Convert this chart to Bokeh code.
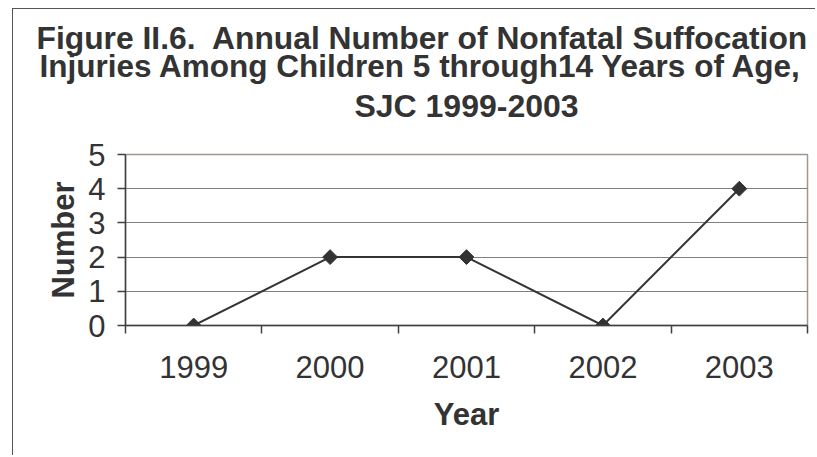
import math
from bokeh.plotting import figure
from bokeh.models import Range1d, FixedTicker, Title
from bokeh.embed import file_html
from bokeh.resources import INLINE

# ---- data ----
years = ["1999", "2000", "2001", "2002", "2003"]
counts = [0, 2, 2, 0, 4]
y_ticks = [0, 1, 2, 3, 4, 5]
title_line1 = "Figure II.6.\u00a0 Annual Number of Nonfatal Suffocation"
title_line2 = "Injuries Among Children 5 through14 Years of Age,"
title_line3 = "SJC 1999-2003"
x_title = "Year"
y_title = "Number"

FONT = "Liberation Sans"
TXT = "#333333"

xs = list(range(len(years)))
boundaries = [i - 0.5 for i in range(len(years) + 1)]

# canvas starts at page (13, 9) because of css margin + border
p = figure(width=803, height=447, output_backend="svg", toolbar_location=None,
           x_range=Range1d(-0.5, len(years) - 0.5), y_range=Range1d(0, 5),
           min_border_left=112, min_border_right=9, min_border_top=145,
           min_border_bottom=131)
p.styles = {"margin-left": "12px", "margin-top": "8px",
            "border-left": "1px solid #555555", "border-top": "1px solid #555555"}
p.background_fill_color = "white"
p.border_fill_color = "white"
p.outline_line_color = "#a0968f"
p.outline_line_width = 1.5

# x axis
xa = p.xaxis[0]
xa.ticker = FixedTicker(ticks=xs, minor_ticks=boundaries)
xa.major_label_overrides = {i: y for i, y in zip(xs, years)}
xa.major_tick_out = 0
xa.major_tick_in = 0
xa.minor_tick_out = 8
xa.minor_tick_in = 0
xa.minor_tick_line_color = "#404040"
xa.minor_tick_line_width = 1.5
xa.axis_line_color = "#404040"
xa.axis_line_width = 1.5
xa.major_label_text_font = FONT
xa.major_label_text_font_size = "31px"
xa.major_label_text_color = TXT
xa.major_label_standoff = 22
xa.axis_label = x_title
xa.axis_label_text_font = FONT
xa.axis_label_text_font_size = "31px"
xa.axis_label_text_font_style = "bold"
xa.axis_label_text_color = TXT
xa.axis_label_standoff = 16

# y axis
ya = p.yaxis[0]
ya.ticker = FixedTicker(ticks=y_ticks)
ya.major_tick_out = 8
ya.major_tick_in = 0
ya.minor_tick_out = 0
ya.minor_tick_in = 0
ya.major_tick_line_color = "#404040"
ya.major_tick_line_width = 1.5
ya.axis_line_color = "#404040"
ya.axis_line_width = 1.5
ya.major_label_text_font = FONT
ya.major_label_text_font_size = "31px"
ya.major_label_text_color = TXT
ya.major_label_standoff = 12
ya.axis_label = y_title
ya.axis_label_text_font = FONT
ya.axis_label_text_font_size = "31px"
ya.axis_label_text_font_style = "bold"
ya.axis_label_text_color = TXT
ya.axis_label_standoff = 4

p.xgrid.visible = False
p.ygrid.ticker = FixedTicker(ticks=y_ticks[1:-1])
p.ygrid.grid_line_color = "#808080"
p.ygrid.grid_line_width = 1.2

# series
p.line(xs, counts, line_color="#333333", line_width=2)
p.scatter(xs, counts, marker="square", angle=math.pi / 4, size=10.5,
          fill_color="#333333", line_color="#333333")

# titles (stacked outward from the plot frame)
p.add_layout(Title(text=" ", text_font_size="2px", standoff=26.7), "above")  # spacer
p.add_layout(Title(text=title_line3, align="center", standoff=0,
                   text_font=FONT, text_font_size="32px", text_font_style="bold",
                   text_color=TXT), "above")
p.add_layout(Title(text=title_line2, align="left", offset=-86, standoff=3.4,
                   text_font=FONT, text_font_size="31.5px", text_font_style="bold",
                   text_color=TXT), "above")
p.add_layout(Title(text=title_line1, align="left", offset=-89, standoff=-23,
                   text_font=FONT, text_font_size="31.8px", text_font_style="bold",
                   text_color=TXT), "above")

open("out.html", "w").write(file_html(p, INLINE))
